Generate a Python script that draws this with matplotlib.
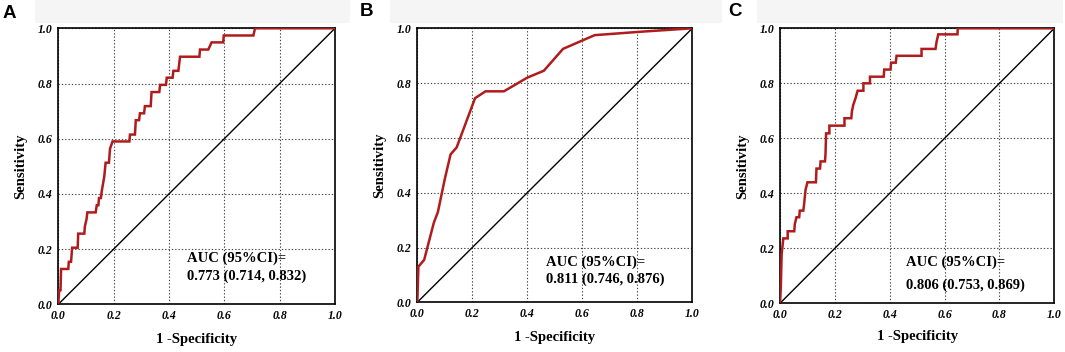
import matplotlib
matplotlib.use("Agg")
import matplotlib.pyplot as plt
from matplotlib.patches import Rectangle

# ---------------- data ----------------
panel_labels = ["A", "B", "C"]

fpr_A = [0, 0.003, 0.008, 0.010, 0.036, 0.038, 0.046, 0.048, 0.050, 0.070, 0.072, 0.094,
         0.096, 0.102, 0.105, 0.135, 0.139, 0.145, 0.147, 0.154, 0.157, 0.166, 0.171,
         0.183, 0.187, 0.196, 0.257, 0.259, 0.277, 0.280, 0.292, 0.295, 0.310, 0.313,
         0.334, 0.337, 0.365, 0.368, 0.389, 0.392, 0.413, 0.416, 0.434, 0.437, 0.440,
         0.510, 0.512, 0.542, 0.554, 0.596, 0.598, 0.705, 0.711, 1.0]
tpr_A = [0, 0.051, 0.051, 0.128, 0.128, 0.154, 0.154, 0.179, 0.205, 0.205, 0.256, 0.256,
         0.282, 0.308, 0.333, 0.333, 0.359, 0.359, 0.385, 0.385, 0.410, 0.462, 0.513,
         0.513, 0.564, 0.590, 0.590, 0.615, 0.615, 0.667, 0.667, 0.692, 0.692, 0.718,
         0.718, 0.769, 0.769, 0.795, 0.795, 0.821, 0.821, 0.846, 0.846, 0.872, 0.897,
         0.897, 0.923, 0.923, 0.949, 0.949, 0.974, 0.974, 1.0, 1.0]

fpr_B = [0, 0.004, 0.025, 0.060, 0.075, 0.100, 0.121, 0.143, 0.210, 0.248, 0.315,
         0.400, 0.460, 0.530, 0.645, 0.820, 1.0]
tpr_B = [0, 0.130, 0.155, 0.290, 0.330, 0.450, 0.540, 0.565, 0.745, 0.770, 0.770,
         0.820, 0.845, 0.925, 0.975, 0.988, 1.0]

fpr_C = [0, 0.003, 0.006, 0.009, 0.012, 0.028, 0.028, 0.052, 0.054, 0.060, 0.070, 0.072,
         0.085, 0.088, 0.093, 0.100, 0.131, 0.133, 0.146, 0.148, 0.164, 0.166, 0.168,
         0.180, 0.180, 0.235, 0.235, 0.260, 0.262, 0.267, 0.276, 0.283, 0.304, 0.304,
         0.328, 0.328, 0.378, 0.380, 0.403, 0.405, 0.422, 0.425, 0.516, 0.516, 0.567,
         0.571, 0.577, 0.647, 0.648, 1.0]
tpr_C = [0, 0.060, 0.180, 0.206, 0.236, 0.236, 0.262, 0.262, 0.288, 0.313, 0.313, 0.337,
         0.337, 0.361, 0.412, 0.440, 0.440, 0.490, 0.490, 0.516, 0.516, 0.545, 0.618,
         0.618, 0.646, 0.646, 0.673, 0.673, 0.697, 0.721, 0.748, 0.773, 0.773, 0.800,
         0.800, 0.824, 0.824, 0.850, 0.850, 0.875, 0.875, 0.900, 0.900, 0.925, 0.925,
         0.952, 0.978, 0.978, 1.0, 1.0]

auc_texts = ["0.773 (0.714, 0.832)", "0.811 (0.746, 0.876)", "0.806 (0.753, 0.869)"]
ticks = [0.0, 0.2, 0.4, 0.6, 0.8, 1.0]
tick_labels = ["0.0", "0.2", "0.4", "0.6", "0.8", "1.0"]
xlabel = "1 -Specificity"
ylabel = "Sensitivity"

# ---------------- layout ----------------
W, H = 1065, 352
fig = plt.figure(figsize=(W / 100, H / 100), dpi=100)

axes_px = [(58.3, 335.0, 28.3, 304.3), (417.3, 692.3, 28.3, 302.3), (780.0, 1054.3, 28.3, 303.3)]
band_px = [(35, 350), (390, 722), (757, 1063)]
letter_px = [(3, 13), (360, 11), (728, 11)]
auc_pos = [(0.465, 0.168, 0.100), (0.468, 0.147, 0.084), (0.459, 0.151, 0.066)]
xlabel_y = [-0.126, -0.127, -0.122]

curves = [(fpr_A, tpr_A), (fpr_B, tpr_B), (fpr_C, tpr_C)]

serif = ["Liberation Serif", "DejaVu Serif"]
red = "#b01c1c"

for i in range(3):
    # light band at top
    bx0, bx1 = band_px[i]
    fig.patches.append(Rectangle((bx0 / W, 1 - 23 / H), (bx1 - bx0) / W, 23 / H,
                                 transform=fig.transFigure, facecolor="#f5f5f5",
                                 edgecolor="none", zorder=0))
    l, r, t, b = axes_px[i]
    ax = fig.add_axes([l / W, 1 - b / H, (r - l) / W, (b - t) / H])
    fx, ty = curves[i]
    ax.plot([0, 1], [0, 1], color="black", lw=1.0, zorder=2)
    ax.plot(fx, ty, color=red, lw=1.8, zorder=3, solid_joinstyle="miter")
    ax.set_xlim(0, 1)
    ax.set_ylim(0, 1)
    ax.set_xticks(ticks)
    ax.set_yticks(ticks)
    ax.set_xticklabels(tick_labels, family=serif, weight="bold", style="italic", fontsize=8.5)
    ax.set_yticklabels(tick_labels, family=serif, weight="bold", style="italic", fontsize=8.5)
    ax.tick_params(length=0, pad=4)
    ax.grid(True, color="#444444", linestyle=(0, (1.2, 1.8)), lw=0.8)
    ax.set_axisbelow(True)
    for s in ax.spines.values():
        s.set_linewidth(1.2)
        s.set_color("black")
    ax.set_xlabel(xlabel, family=serif, weight="bold", fontsize=10.5)
    ax.set_ylabel(ylabel, family=serif, weight="bold", fontsize=10.5)
    ax.xaxis.set_label_coords(0.5, xlabel_y[i])
    ax.xaxis.label.set_va("center")
    ax.yaxis.set_label_coords(-0.135, 0.5)
    ax.yaxis.label.set_va("center")
    ax_x, y1, y2 = auc_pos[i]
    ax.text(ax_x, y1, "AUC (95%CI)=", family=serif, weight="bold", fontsize=10.5,
            va="center", ha="left", transform=ax.transAxes, zorder=4)
    ax.text(ax_x, y2, auc_texts[i], family=serif, weight="bold", fontsize=10.5,
            va="center", ha="left", transform=ax.transAxes, zorder=4)
    lx, ly = letter_px[i]
    fig.text(lx / W, 1 - ly / H, panel_labels[i], family=["Liberation Sans", "DejaVu Sans"],
             weight="bold", fontsize=13.5, va="center", ha="left")

fig.savefig("out.png", dpi=100, facecolor="white")
